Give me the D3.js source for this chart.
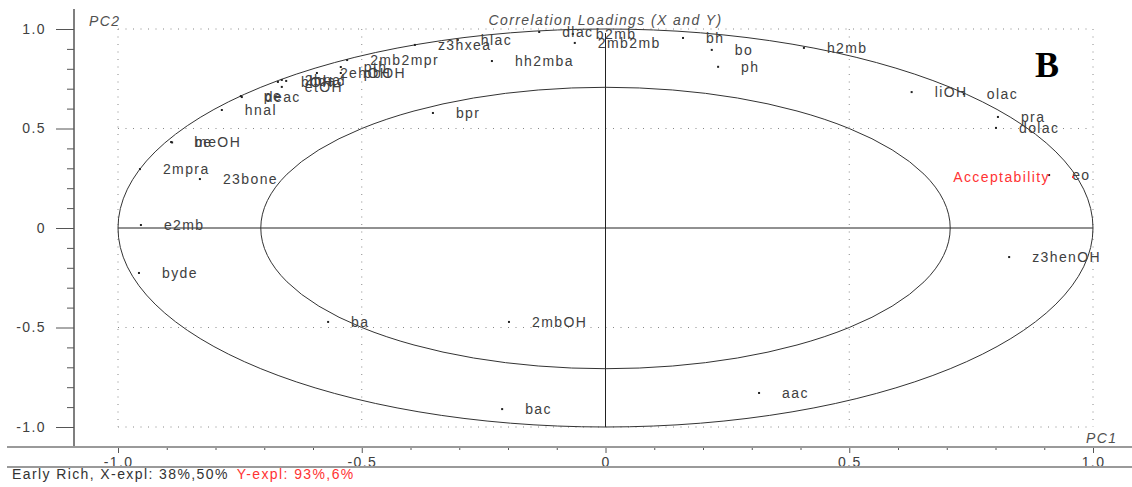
<!DOCTYPE html>
<html>
<head>
<meta charset="utf-8">
<script src="https://cdn.jsdelivr.net/npm/d3@7"></script>
<style>
  html, body { margin: 0; padding: 0; background: #fff; }
  svg { display: block; }
  text { font-family: "Liberation Sans", Arial, sans-serif; }
</style>
</head>
<body>
<svg id="chart" width="1132" height="487"></svg>
<script>
// ---- data ----
const xVarNames = ["z3hxea","hlac","dlac","b2mb","2mb2mb","bh","bo","ph","h2mb","liOH","olac","pra","dolac","eo","z3henOH","aac","bac","2mbOH","ba","byde","e2mb","2mpra","23bone","be","meOH","hnal","pe","deac","etOH","bOH","2hnal","hdac","2ehOH","pth","pbOH","2mb2mpr","hh2mba","bpr"];
const xVarPC1 = [-0.391,-0.303,-0.136,-0.067,-0.063,0.159,0.218,0.231,0.407,0.628,0.735,0.805,0.801,0.910,0.828,0.315,-0.212,-0.198,-0.569,-0.957,-0.953,-0.955,-0.832,-0.891,-0.889,-0.787,-0.748,-0.746,-0.664,-0.672,-0.664,-0.655,-0.592,-0.543,-0.543,-0.530,-0.233,-0.354];
const xVarPC2 = [0.920,0.945,0.985,0.975,0.930,0.955,0.895,0.810,0.905,0.683,0.673,0.558,0.503,0.266,-0.146,-0.829,-0.910,-0.472,-0.472,-0.226,0.015,0.296,0.246,0.432,0.430,0.593,0.663,0.658,0.709,0.734,0.744,0.739,0.779,0.809,0.779,0.844,0.839,0.578];
const yVarNames = ["Acceptability"];
const yVarPC1 = [0.959];
const yVarPC2 = [0.256];
const ellipseRadii = [1.0, 0.7071];
const majorTicks = [-1, -0.5, 0, 0.5, 1];
const majorTickLabels = ["-1.0", "-0.5", "0", "0.5", "1.0"];
const minorTicks = [-0.9,-0.8,-0.7,-0.6,-0.4,-0.3,-0.2,-0.1,0.1,0.2,0.3,0.4,0.6,0.7,0.8,0.9];
const gridValues = [-1, -0.5, 0.5, 1];
const titleText = "Correlation Loadings (X and Y)";
const footerBlack = "Early Rich, X-expl: 38%,50%";
const footerRed = "Y-expl: 93%,6%";

// ---- layout ----
const svg = d3.select("#chart");
const x = d3.scaleLinear().domain([-1, 1]).range([118, 1093]);
const y = d3.scaleLinear().domain([-1, 1]).range([427, 29]);
const axisX = 74, axisY = 447;
const txt = "#404040";
const red = "#ff3333";
const fontStyle = sel => sel.style("font-size", "14px").style("letter-spacing", "1.4px");

// dotted grid
svg.append("g").selectAll("line.gv").data(gridValues).join("line")
  .attr("x1", d => x(d)).attr("x2", d => x(d)).attr("y1", y(1)).attr("y2", y(-1))
  .attr("stroke", "#888").attr("stroke-width", 1).attr("stroke-dasharray", "1,6.5");
svg.append("g").selectAll("line.gh").data(gridValues).join("line")
  .attr("y1", d => y(d)).attr("y2", d => y(d)).attr("x1", x(-1)).attr("x2", x(1))
  .attr("stroke", "#888").attr("stroke-width", 1).attr("stroke-dasharray", "1,6.5");

// zero lines
svg.append("line").attr("x1", x(-1)).attr("x2", x(1)).attr("y1", y(0)).attr("y2", y(0))
  .attr("stroke", "#222").attr("stroke-width", 1);
svg.append("line").attr("x1", x(0)).attr("x2", x(0)).attr("y1", y(-1)).attr("y2", y(0.98))
  .attr("stroke", "#222").attr("stroke-width", 1);

// ellipses
svg.append("g").selectAll("ellipse").data(ellipseRadii).join("ellipse")
  .attr("cx", x(0)).attr("cy", y(0))
  .attr("rx", d => x(d) - x(0)).attr("ry", d => y(0) - y(d))
  .attr("fill", "none").attr("stroke", "#333").attr("stroke-width", 1);

// axes
const yMajor = d3.axisLeft(y).tickValues(majorTicks).tickSize(18).tickPadding(10)
  .tickFormat((d, i) => majorTickLabels[i]);
const yMinor = d3.axisLeft(y).tickValues(minorTicks).tickSize(7).tickFormat("");
const xMajor = d3.axisBottom(x).tickValues(majorTicks).tickSize(6).tickPadding(4)
  .tickFormat((d, i) => majorTickLabels[i]);
const xMinor = d3.axisBottom(x).tickValues(minorTicks).tickSize(3).tickFormat("");

function styleAxis(g) {
  g.select(".domain").remove();
  g.selectAll(".tick line").attr("stroke", "#555").attr("stroke-width", 1);
  g.selectAll(".tick text").attr("fill", txt).call(fontStyle).style("font-family", "'Liberation Sans', Arial, sans-serif");
}
svg.append("g").attr("transform", `translate(${axisX},0)`).call(yMajor).call(styleAxis);
svg.append("g").attr("transform", `translate(${axisX},0)`).call(yMinor).call(styleAxis);
svg.append("g").attr("transform", `translate(0,${axisY})`).call(xMajor).call(styleAxis);
svg.append("g").attr("transform", `translate(0,${axisY})`).call(xMinor).call(styleAxis);

// axis frame lines
svg.append("line").attr("x1", axisX).attr("x2", axisX).attr("y1", 9).attr("y2", axisY)
  .attr("stroke", "#555").attr("stroke-width", 1.5);
svg.append("line").attr("x1", 7).attr("x2", 1132).attr("y1", axisY).attr("y2", axisY)
  .attr("stroke", "#9a9a9a").attr("stroke-width", 2);
svg.append("line").attr("x1", 7).attr("x2", 1132).attr("y1", 467).attr("y2", 467)
  .attr("stroke", "#9a9a9a").attr("stroke-width", 2);

// titles
svg.append("text").attr("x", x(0)).attr("y", 25).attr("text-anchor", "middle")
  .attr("fill", "#505050").style("font-style", "italic").call(fontStyle).text(titleText);
svg.append("text").attr("x", 89).attr("y", 26).attr("fill", "#505050")
  .style("font-style", "italic").call(fontStyle).text("PC2");
svg.append("text").attr("x", 1086).attr("y", 443).attr("fill", "#505050")
  .style("font-style", "italic").call(fontStyle).text("PC1");
svg.append("text").attr("x", 1035).attr("y", 77).attr("fill", "#000")
  .style("font-family", "'Liberation Serif', 'Times New Roman', serif")
  .style("font-weight", "bold").style("font-size", "36px").text("B");

// footer
const foot = svg.append("text").attr("x", 12).attr("y", 479).call(fontStyle);
foot.append("tspan").attr("fill", "#333").text(footerBlack);
foot.append("tspan").attr("fill", red).attr("dx", 8).text(footerRed);

// X variables
const xData = xVarNames.map((n, i) => ({ name: n, pc1: xVarPC1[i], pc2: xVarPC2[i] }));
const gx = svg.append("g");
gx.selectAll("rect").data(xData).join("rect")
  .attr("x", d => x(d.pc1) - 1).attr("y", d => y(d.pc2) - 1)
  .attr("width", 2).attr("height", 2).attr("fill", "#222");
gx.selectAll("text").data(xData).join("text")
  .attr("x", d => x(d.pc1) + 23).attr("y", d => y(d.pc2)).attr("dy", "0.36em")
  .attr("fill", txt).call(fontStyle).text(d => d.name);

// Y variables
const yData = yVarNames.map((n, i) => ({ name: n, pc1: yVarPC1[i], pc2: yVarPC2[i] }));
const gy = svg.append("g");
gy.selectAll("rect").data(yData).join("rect")
  .attr("x", d => x(d.pc1) - 1).attr("y", d => y(d.pc2) - 1)
  .attr("width", 2).attr("height", 2).attr("fill", red);
gy.selectAll("text").data(yData).join("text")
  .attr("x", d => x(d.pc1) - 23).attr("y", d => y(d.pc2)).attr("dy", "0.36em")
  .attr("text-anchor", "end").attr("fill", red).call(fontStyle).text(d => d.name);
</script>
</body>
</html>
